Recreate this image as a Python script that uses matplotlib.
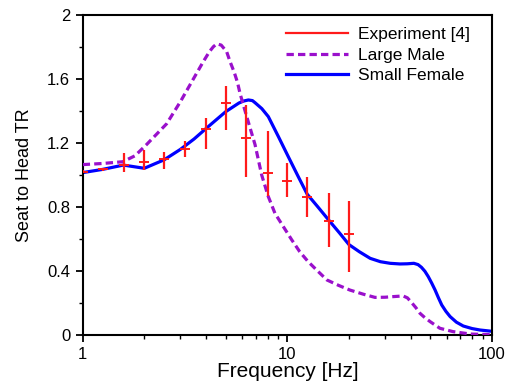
import matplotlib
matplotlib.use("Agg")
import matplotlib.pyplot as plt
from matplotlib.lines import Line2D
from matplotlib.ticker import FixedLocator, MultipleLocator, LogLocator, NullFormatter
import numpy as np

plt.rcParams['font.family'] = ['Liberation Sans', 'DejaVu Sans']

# Experiment [4] - third-octave centre frequencies, mean and error bar ends
exp_freq = [1, 1.25, 1.6, 2, 2.5, 3.15, 4, 5, 6.3, 8, 10, 12.5, 16, 20]
exp_mean = [1.02, 1.035, 1.06, 1.08, 1.10, 1.16, 1.29, 1.45, 1.23, 1.01, 0.96, 0.86, 0.71, 0.63]
exp_upper = [1.03, 1.045, 1.135, 1.155, 1.145, 1.215, 1.355, 1.555, 1.44, 1.277, 1.077, 0.985, 0.885, 0.84]
exp_lower = [1.01, 1.025, 1.02, 1.03, 1.04, 1.11, 1.16, 1.28, 0.99, 0.87, 0.86, 0.74, 0.548, 0.396]

# Large Male model
male_freq = [1.0, 1.25, 1.57, 1.8, 2.05, 2.57, 3.0, 3.45, 3.88, 4.16, 4.35, 4.52, 4.75, 5.05,
             5.25, 5.5, 5.71, 5.87, 6.33, 6.95, 7.49, 8.07, 8.7, 9.56, 10.5, 11.5, 12.6,
             13.9, 15.6, 17.8, 20.2, 23.5, 26.8, 30.0, 33.0, 36.8, 38.6, 40.5, 42.5, 44.5,
             47.0, 49.9, 55.6, 64.5, 78.4, 100.0]
male_tr = [1.065, 1.072, 1.083, 1.12, 1.19, 1.32, 1.458, 1.594, 1.708, 1.771, 1.802, 1.82,
           1.812, 1.771, 1.708, 1.642, 1.577, 1.51, 1.365, 1.19, 1.0, 0.865, 0.76, 0.677,
           0.595, 0.52, 0.46, 0.406, 0.344, 0.31, 0.281, 0.255, 0.235, 0.236, 0.24, 0.244,
           0.232, 0.202, 0.17, 0.135, 0.108, 0.083, 0.042, 0.021, 0.006, 0.002]

# Small Female model
female_freq = [1.0, 1.25, 1.58, 2.0, 2.5, 3.0, 3.5, 4.0, 5.0, 5.8, 6.1, 6.45, 6.75, 6.95,
               7.5, 8.07, 9.04, 10.1, 11.3, 12.5, 14.0, 16.0, 18.0, 20.0, 22.5, 25.4,
               28.5, 31.8, 35.5, 38.5, 41.5, 43.5, 45.2, 47.0, 48.8, 50.7, 52.7, 54.7,
               56.8, 59.5, 62.4, 67.0, 72.4, 80.0, 87.5, 100.0]
female_tr = [1.015, 1.035, 1.062, 1.042, 1.095, 1.16, 1.225, 1.29, 1.396, 1.45, 1.462,
             1.469, 1.465, 1.452, 1.415, 1.365, 1.24, 1.115, 0.99, 0.88, 0.805, 0.715,
             0.637, 0.565, 0.52, 0.479, 0.458, 0.448, 0.444, 0.445, 0.448, 0.44, 0.423,
             0.398, 0.365, 0.325, 0.281, 0.233, 0.1875, 0.148, 0.115, 0.08, 0.056, 0.04,
             0.031, 0.023]

y_ticks = [0, 0.4, 0.8, 1.2, 1.6, 2]

fig = plt.figure(figsize=(5.05, 3.85), dpi=100)
ax = fig.add_axes([0.1638, 0.1299, 0.8105, 0.8311])

ax.plot(female_freq, female_tr, color='#0000ff', lw=2.3, zorder=2,
        solid_joinstyle='round')
ax.plot(male_freq, male_tr, color='#9a10cc', lw=2.3, ls=(0, (2.3, 1.3)), zorder=3)

mean = np.array(exp_mean)
yerr = [mean - np.array(exp_lower), np.array(exp_upper) - mean]
ax.errorbar(exp_freq, exp_mean, yerr=yerr, fmt='_', color='#ff1a1a', ecolor='#ff1a1a',
            elinewidth=1.6, markersize=7, markeredgewidth=1.4, capsize=0, zorder=4)

ax.set_xscale('log')
ax.set_xlim(1, 100)
ax.set_ylim(0, 2)
ax.xaxis.set_major_locator(FixedLocator([1, 10, 100]))
ax.set_xticklabels(['1', '10', '100'])
ax.xaxis.set_minor_locator(LogLocator(base=10, subs=np.arange(2, 10)))
ax.xaxis.set_minor_formatter(NullFormatter())
ax.yaxis.set_major_locator(FixedLocator(y_ticks))
ax.set_yticklabels(['%g' % t for t in y_ticks])
ax.yaxis.set_minor_locator(MultipleLocator(0.2))

ax.tick_params(which='major', direction='out', length=5, width=1.3, labelsize=12, pad=4)
ax.tick_params(which='minor', direction='out', length=3, width=1.0)
for sp in ax.spines.values():
    sp.set_linewidth(1.5)

ax.set_xlabel('Frequency [Hz]', fontsize=15, labelpad=0)
ax.set_ylabel('Seat to Head TR', fontsize=13, labelpad=10)

handles = [Line2D([], [], color='#ff1a1a', lw=1.6),
           Line2D([], [], color='#9a10cc', lw=2.3, ls=(0, (2.3, 1.3))),
           Line2D([], [], color='#0000ff', lw=2.3)]
ax.legend(handles, ['Experiment [4]', 'Large Male', 'Small Female'], loc='upper right',
          frameon=False, fontsize=12.5, handlelength=3.6, handletextpad=0.55,
          labelspacing=0.3, borderaxespad=0.3, bbox_to_anchor=(0.975, 1.0))

fig.savefig('out.png', dpi=100)
